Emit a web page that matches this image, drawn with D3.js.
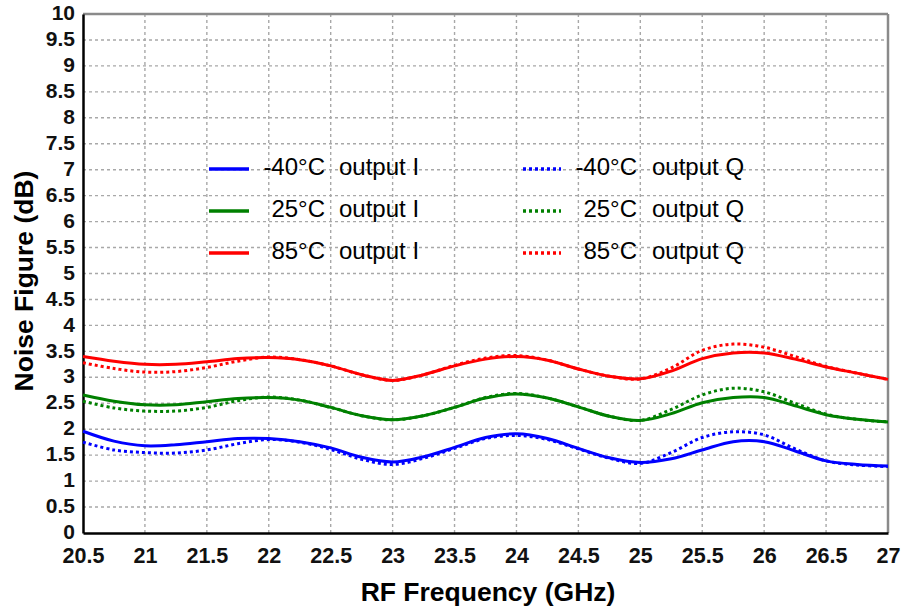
<!DOCTYPE html>
<html>
<head>
<meta charset="utf-8">
<script src="https://cdn.jsdelivr.net/npm/d3@7"></script>
<style>
  html, body { margin: 0; padding: 0; background: #fff; }
  svg { display: block; font-family: "Liberation Sans", Arial, sans-serif; }
</style>
</head>
<body>
<svg id="chart" width="903" height="610"></svg>
<script>
// Frequency grid (GHz) shared by all traces
const freq = [20.5, 20.75, 21, 21.25, 21.5, 21.75, 22, 22.25, 22.5, 22.75, 23, 23.25, 23.5,
              23.75, 24, 24.25, 24.5, 24.75, 25, 25.25, 25.5, 25.75, 26, 26.25, 26.5, 26.75, 27];

// Noise figure (dB) per temperature and output
const nfM40I = [1.96, 1.77, 1.68, 1.70, 1.76, 1.82, 1.82, 1.76, 1.64, 1.46, 1.37, 1.47, 1.65,
                1.84, 1.91, 1.82, 1.63, 1.45, 1.36, 1.43, 1.60, 1.76, 1.76, 1.58, 1.39, 1.32, 1.29];
const nfM40Q = [1.75, 1.60, 1.55, 1.54, 1.60, 1.72, 1.80, 1.75, 1.61, 1.42, 1.32, 1.44, 1.63,
                1.82, 1.88, 1.80, 1.62, 1.44, 1.34, 1.55, 1.84, 1.95, 1.89, 1.62, 1.39, 1.31, 1.28];
const nf25I  = [2.66, 2.54, 2.47, 2.47, 2.53, 2.59, 2.61, 2.56, 2.42, 2.26, 2.18, 2.26, 2.42,
                2.60, 2.68, 2.60, 2.43, 2.25, 2.17, 2.30, 2.51, 2.61, 2.61, 2.45, 2.28, 2.19, 2.14];
const nf25Q  = [2.54, 2.41, 2.35, 2.35, 2.42, 2.55, 2.62, 2.56, 2.42, 2.26, 2.18, 2.26, 2.42,
                2.61, 2.69, 2.60, 2.43, 2.25, 2.17, 2.38, 2.66, 2.79, 2.72, 2.50, 2.29, 2.19, 2.14];
const nf85I  = [3.40, 3.31, 3.25, 3.25, 3.30, 3.36, 3.38, 3.34, 3.22, 3.05, 2.94, 3.05, 3.22,
                3.35, 3.40, 3.33, 3.16, 3.02, 2.97, 3.12, 3.36, 3.47, 3.47, 3.35, 3.20, 3.08, 2.96];
const nf85Q  = [3.28, 3.17, 3.10, 3.11, 3.19, 3.31, 3.39, 3.34, 3.22, 3.05, 2.94, 3.05, 3.23,
                3.37, 3.42, 3.33, 3.16, 3.02, 2.97, 3.18, 3.52, 3.64, 3.58, 3.40, 3.21, 3.08, 2.96];

const xTicks = [20.5, 21, 21.5, 22, 22.5, 23, 23.5, 24, 24.5, 25, 25.5, 26, 26.5, 27];
const yTicks = [0, 0.5, 1, 1.5, 2, 2.5, 3, 3.5, 4, 4.5, 5, 5.5, 6, 6.5, 7, 7.5, 8, 8.5, 9, 9.5, 10];

const seriesNames = ["-40°C", "25°C", "85°C"];
const seriesColors = ["#0000ff", "#008000", "#ff0000"];
const series = [
  { temp: 0, out: "I", values: nfM40I },
  { temp: 1, out: "I", values: nf25I },
  { temp: 2, out: "I", values: nf85I },
  { temp: 0, out: "Q", values: nfM40Q },
  { temp: 1, out: "Q", values: nf25Q },
  { temp: 2, out: "Q", values: nf85Q }
];

const svg = d3.select("#chart");
const L = 83, R = 888, T = 14, B = 533;

const x = d3.scaleLinear().domain([20.5, 27]).range([L, R]);
const y = d3.scaleLinear().domain([0, 10]).range([B, T]);

// Dotted grid
const grid = svg.append("g")
  .attr("stroke", "#a8a8a8").attr("stroke-width", 1.4).attr("stroke-dasharray", "3,3");
grid.selectAll(".gx").data(xTicks.slice(1, -1)).join("line")
  .attr("x1", d => x(d)).attr("x2", d => x(d)).attr("y1", T).attr("y2", B);
grid.selectAll(".gy").data(yTicks.slice(1, -1)).join("line")
  .attr("x1", L).attr("x2", R).attr("y1", d => y(d)).attr("y2", d => y(d));

// Frame: grey top/right, black left/bottom
svg.append("line").attr("x1", L).attr("x2", R).attr("y1", T).attr("y2", T)
  .attr("stroke", "#8a8a8a").attr("stroke-width", 2.5);
svg.append("line").attr("x1", R).attr("x2", R).attr("y1", T).attr("y2", B)
  .attr("stroke", "#8a8a8a").attr("stroke-width", 2.5);

// Axes (labels only, ticks hidden)
const xAxis = d3.axisBottom(x).tickValues(xTicks).tickSize(0).tickPadding(15)
  .tickFormat(d => d3.format("")(d));
const yAxis = d3.axisLeft(y).tickValues(yTicks).tickSize(0).tickPadding(8)
  .tickFormat(d => d3.format("")(d));

const gx = svg.append("g").attr("transform", `translate(0,${B})`).call(xAxis);
const gy = svg.append("g").attr("transform", `translate(${L},0)`).call(yAxis);
[gx, gy].forEach(g => {
  g.select(".domain").attr("stroke", "#000").attr("stroke-width", 2.5);
  g.selectAll("text").attr("fill", "#111").attr("font-weight", "bold")
    .attr("font-family", "Liberation Sans, Arial, sans-serif");
});
gx.selectAll("text").attr("font-size", 21.5).attr("dy", "0.71em");
gy.selectAll("text").attr("font-size", 21).attr("dy", "0.27em");

// Curves
const line = d3.line()
  .x((d, i) => x(freq[i]))
  .y(d => y(d))
  .curve(d3.curveCatmullRom.alpha(0.5));

series.forEach(s => {
  svg.append("path")
    .attr("d", line(s.values))
    .attr("fill", "none")
    .attr("stroke", seriesColors[s.temp])
    .attr("stroke-width", 3)
    .attr("stroke-dasharray", s.out === "Q" ? "3,3" : null);
});

// Legend
const legRows = [169, 211, 253];
const leg = svg.append("g").attr("font-size", 24).attr("fill", "#000");
[0, 1, 2].forEach(i => {
  const yy = legRows[i];
  // output I column
  leg.append("line").attr("x1", 209).attr("x2", 249).attr("y1", yy).attr("y2", yy)
    .attr("stroke", seriesColors[i]).attr("stroke-width", 3.5);
  leg.append("text").attr("x", 325).attr("y", yy + 6)
    .attr("text-anchor", "end").text(seriesNames[i]);
  leg.append("text").attr("x", 339).attr("y", yy + 6).text("output I");
  // output Q column
  leg.append("line").attr("x1", 523).attr("x2", 561).attr("y1", yy).attr("y2", yy)
    .attr("stroke", seriesColors[i]).attr("stroke-width", 3.5).attr("stroke-dasharray", "3,3");
  leg.append("text").attr("x", 637).attr("y", yy + 6)
    .attr("text-anchor", "end").text(seriesNames[i]);
  leg.append("text").attr("x", 652).attr("y", yy + 6).text("output Q");
});

// Axis titles
svg.append("text").attr("x", 488).attr("y", 601).attr("text-anchor", "middle")
  .attr("font-size", 26.5).attr("font-weight", "bold").text("RF Frequency (GHz)");
svg.append("text").attr("transform", "translate(33,281) rotate(-90)")
  .attr("text-anchor", "middle").attr("font-size", 26.5).attr("font-weight", "bold")
  .text("Noise Figure (dB)");
</script>
</body>
</html>
